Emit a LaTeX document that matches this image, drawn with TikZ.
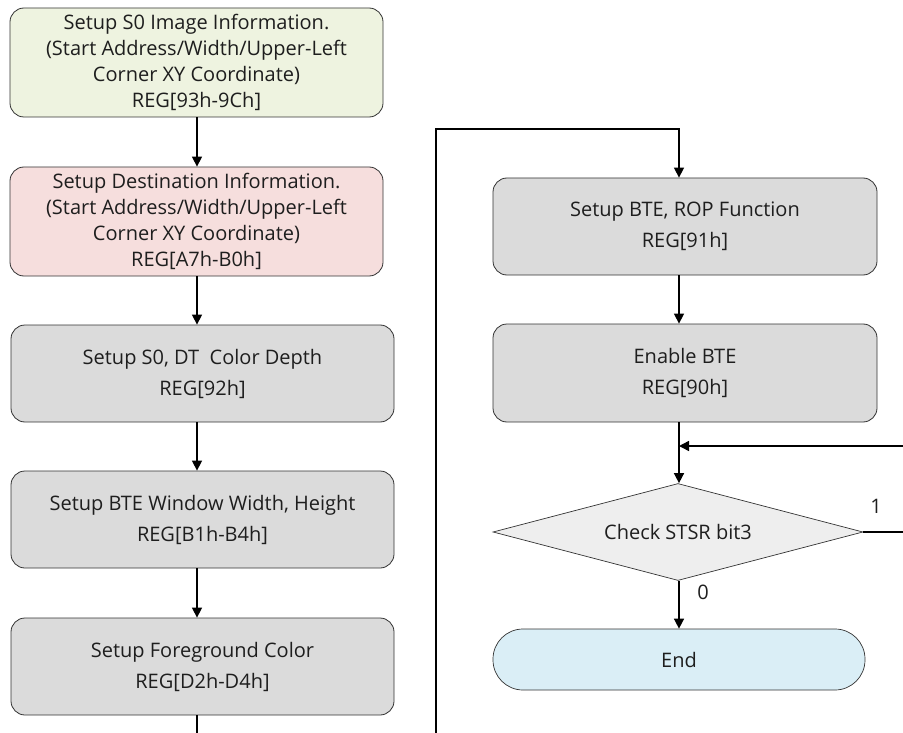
\documentclass[tikz,border=0pt]{standalone}
\usepackage{fontspec}
\setmainfont{Open Sans}
\usetikzlibrary{shapes.geometric,arrows.meta}
\definecolor{cGreen}{RGB}{238,243,224}
\definecolor{cPink}{RGB}{246,222,221}
\definecolor{cGray}{RGB}{219,219,219}
\definecolor{cDia}{RGB}{238,238,238}
\definecolor{cBlue}{RGB}{218,238,246}
\definecolor{cText}{RGB}{30,30,30}
\tikzset{
  flowbox/.style={draw=black!80, line width=0.8pt, rounded corners=14pt, align=center, inner sep=0pt, font=\fontsize{20}{26}\selectfont, text=cText},
  twoline/.style={font=\fontsize{20}{31}\selectfont},
  decbox/.style={draw=black!80, line width=0.7pt, diamond, aspect=3.8, inner sep=0pt, font=\fontsize{20}{24}\selectfont, text=cText, fill=cDia},
  endbox/.style={draw=black!80, line width=0.7pt, rounded corners=30pt, inner sep=0pt, font=\fontsize{20}{24}\selectfont, text=cText, fill=cBlue},
  conn/.style={draw=black, line width=1.5pt, -{Triangle[length=10pt,width=10pt]}},
  plain/.style={draw=black, line width=1.5pt},
  lbl/.style={font=\fontsize{20}{22}\selectfont, text=cText}
}
\begin{document}
\begin{tikzpicture}[x=1pt,y=-1pt]
\useasboundingbox (0,0) rectangle (903,733);
% left column
\node[flowbox, fill=cGreen, minimum width=373pt, minimum height=109pt] (b1) at (196.5,62.5) {Setup S0 Image Information.\\(Start Address/Width/Upper-Left\\Corner XY Coordinate)\\REG[93h-9Ch]};
\node[flowbox, fill=cPink, minimum width=373pt, minimum height=109pt] (b2) at (196.5,221.5) {Setup Destination Information.\\(Start Address/Width/Upper-Left\\Corner XY Coordinate)\\REG[A7h-B0h]};
\node[flowbox, twoline, fill=cGray, minimum width=383pt, minimum height=97pt] (b3) at (202.5,373.5) {Setup S0, DT\ \ Color Depth\\REG[92h]};
\node[flowbox, twoline, fill=cGray, minimum width=383pt, minimum height=97pt] (b4) at (202.5,519.5) {Setup BTE Window Width, Height\\REG[B1h-B4h]};
\node[flowbox, twoline, fill=cGray, minimum width=383pt, minimum height=97pt] (b5) at (202.5,666.5) {Setup Foreground Color\\REG[D2h-D4h]};
% right column
\node[flowbox, twoline, fill=cGray, minimum width=384pt, minimum height=97pt] (r1) at (685,226.5) {Setup BTE, ROP Function\\REG[91h]};
\node[flowbox, twoline, fill=cGray, minimum width=384pt, minimum height=98pt] (r2) at (685,373) {Enable BTE\\REG[90h]};
\node[decbox, minimum width=370pt, minimum height=97pt] (d) at (678,532) {Check STSR bit3};
\node[endbox, minimum width=372pt, minimum height=61pt] (e) at (679,659.5) {End};
% coordinates
\coordinate (lb) at (197,735);
\coordinate (rb) at (436,735);
\coordinate (rt) at (436,129);
\coordinate (rtc) at (679,129);
\coordinate (fr) at (908,532);
\coordinate (frt) at (908,446);
\coordinate (fj) at (679,446);
% connectors left
\draw[conn] (b1.south -| 197,0) -- (b2.north -| 197,0);
\draw[conn] (b2.south -| 197,0) -- (b3.north -| 197,0);
\draw[conn] (b3.south -| 197,0) -- (b4.north -| 197,0);
\draw[conn] (b4.south -| 197,0) -- (b5.north -| 197,0);
\draw[plain] (b5.south -| 197,0) -- (lb);
% loop to right column
\draw[conn] (rb) -- (rt) -- (rtc) -- (r1.north -| rtc);
\draw[conn] (r1.south -| rtc) -- (r2.north -| rtc);
\draw[conn] (r2.south -| rtc) -- (d.north -| rtc);
\draw[conn] (d.south -| rtc) -- (e.north -| rtc);
\draw[conn] (d.east) -- (fr) -- (frt) -- (fj);
\node[lbl] (l1) at (876,506) {1};
\node[lbl] (l0) at (703,592) {0};
\end{tikzpicture}
\end{document}
